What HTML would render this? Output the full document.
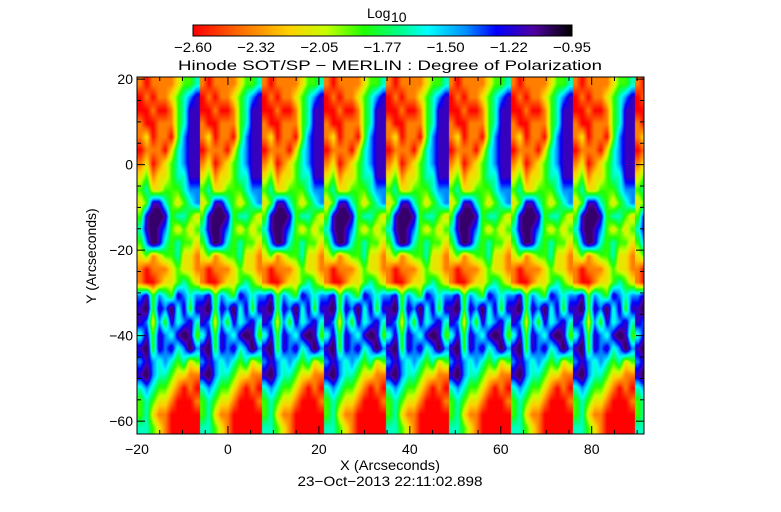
<!DOCTYPE html>
<html><head><meta charset="utf-8"><style>
html,body{margin:0;padding:0;background:#fff;}
#wrap{position:relative;width:781px;height:512px;overflow:hidden;font-family:"Liberation Sans",sans-serif;}
canvas{position:absolute;}
svg{position:absolute;left:0;top:0;}
text{font-family:"Liberation Sans",sans-serif;font-size:14px;fill:#000;}
</style></head><body>
<div id="wrap">
<canvas id="cbar" width="379" height="11" style="left:193px;top:25px"></canvas>
<canvas id="heat" width="507" height="357" style="left:137px;top:77px"></canvas>
<svg id="ax" width="781" height="512"></svg>
</div>
<script>
// Data
const xTicks = [-20, 0, 20, 40, 60, 80];
const yTicks = [20, 0, -20, -40, -60];
const cbarLabels = ["-2.60","-2.32","-2.05","-1.77","-1.50","-1.22","-0.95"];
const xRange = [-20, 91.5];
const yRange = [-63, 20.5];
const slabCount = 8.15;
// One slab pattern (level 0..9 -> colormap position), rows top->bottom
const slabRows = [
"2122223445","1212234567","1121124577","2112224577","2312214677",
"1222135677","2312345677","3423345577","4533444566","3477543456",
"4788745543","5787643434","4687545443","3423445332","2122234332",
"2112334543","6746547656","7847685747","7636475675","5747657874",
"7847675686","6765654534","7865543322","5654432121","4543321112",
"4532211111","5543211111"];

var t;
const stops=[[0,[255,0,0]],[0.12,[255,106,0]],[0.25,[255,208,0]],[0.35,[200,255,0]],[0.45,[32,255,0]],[0.55,[0,255,144]],[0.62,[0,255,255]],[0.72,[0,144,255]],[0.8,[0,0,255]],[0.9,[80,0,160]],[1,[0,0,0]]];
function cmap(t){t=Math.max(0,Math.min(1,t));for(let i=1;i<stops.length;i++){if(t<=stops[i][0]){const a=stops[i-1],b=stops[i];const f=(t-a[0])/(b[0]-a[0]);return [0,1,2].map(k=>Math.round(a[1][k]+(b[1][k]-a[1][k])*f));}}return stops[stops.length-1][1];}

// colorbar
(function(){const c=document.getElementById('cbar'),g=c.getContext('2d');const im=g.createImageData(c.width,c.height);
for(let x=0;x<c.width;x++){const col=cmap(x/(c.width-1));for(let y=0;y<c.height;y++){const i=(y*c.width+x)*4;im.data[i]=col[0];im.data[i+1]=col[1];im.data[i+2]=col[2];im.data[i+3]=255;}}g.putImageData(im,0,0);})();

// heatmap
(function(){const c=document.getElementById('heat'),g=c.getContext('2d');const W=c.width,H=c.height;
const grid=slabRows.map(r=>r.split('').map(Number));const R=grid.length,C=grid[0].length;
const slabW=W/slabCount;const im=g.createImageData(W,H);
function val(r,cc){r=Math.max(0,Math.min(R-1,r));cc=Math.max(0,Math.min(C-1,cc));return grid[r][cc];}
for(let y=0;y<H;y++){const fy=y/H*R-0.5;const r0=Math.floor(fy),dy=fy-r0;
for(let x=0;x<W;x++){const sx=(x%slabW)/slabW*C-0.5;const c0=Math.floor(sx),dx=sx-c0;
let v=(val(r0,c0)*(1-dx)+val(r0,c0+1)*dx)*(1-dy)+(val(r0+1,c0)*(1-dx)+val(r0+1,c0+1)*dx)*dy;
v=Math.min(8.4,(v-4.3)*1.3+4.3);
const col=cmap(v/9);const i=(y*W+x)*4;im.data[i]=col[0];im.data[i+1]=col[1];im.data[i+2]=col[2];im.data[i+3]=255;}}
g.putImageData(im,0,0);})();

// axes
(function(){const s=document.getElementById('ax');const NS='http://www.w3.org/2000/svg';
const L=137,T=77,Rr=644,B=434;
const X=v=>L+(v-xRange[0])/(xRange[1]-xRange[0])*(Rr-L);
const Y=v=>T+(yRange[1]-v)/(yRange[1]-yRange[0])*(B-T);
function el(n,a,txt){const e=document.createElementNS(NS,n);for(const k in a)e.setAttribute(k,a[k]);if(txt!==undefined)e.textContent=txt;s.appendChild(e);return e;}
let e=el('rect',{x:L,y:T,width:Rr-L,height:B-T,fill:'none',stroke:'#000','stroke-width':1});


for(let v=-20;v<=xRange[1];v+=5){const major=v%20===0;const len=major?8:4;const x=X(v);
el('line',{x1:x,x2:x,y1:B,y2:B-len,stroke:'#000'});el('line',{x1:x,x2:x,y1:T,y2:T+len,stroke:'#000'});}
for(let v=-60;v<=20;v+=5){const major=v%20===0;const len=major?8:4;const y=Y(v);
el('line',{x1:L,x2:L+len,y1:y,y2:y,stroke:'#000'});el('line',{x1:Rr,x2:Rr-len,y1:y,y2:y,stroke:'#000'});}
xTicks.forEach(v=>{const t=el('text',{x:X(v),y:454,'text-anchor':'middle'},String(v).replace('-','\u2212'));

});
yTicks.forEach(v=>{const t=el('text',{x:L-4,y:Y(v)+5,'text-anchor':'end'},String(v).replace('-','\u2212'));

});
cbarLabels.forEach((lab,i)=>{const t=el('text',{x:193+i*379/6,y:52,'text-anchor':'middle',textLength:38,lengthAdjust:'spacingAndGlyphs'},lab.replace('-','\u2212'));

});
el('rect',{x:193,y:25,width:379,height:11,fill:'none',stroke:'#000'});
t=el('text',{x:390,y:70,'text-anchor':'middle','font-size':'17',textLength:424,lengthAdjust:'spacingAndGlyphs'},'Hinode SOT/SP \u2212 MERLIN : Degree of Polarization');


t=el('text',{x:367,y:18,'font-size':'15'},'Log');


el('text',{x:391,y:22,'font-size':'9'},'10');
t=el('text',{x:390,y:470,'text-anchor':'middle',textLength:100,lengthAdjust:'spacingAndGlyphs'},'X (Arcseconds)');


t=el('text',{x:390,y:486,'text-anchor':'middle',textLength:185,lengthAdjust:'spacingAndGlyphs'},'23\u2212Oct\u22122013 22:11:02.898');


t=el('text',{x:96,y:256,'text-anchor':'middle',transform:'rotate(-90 96 256)'},'Y (Arcseconds)');


})();
</script>
</body></html>
